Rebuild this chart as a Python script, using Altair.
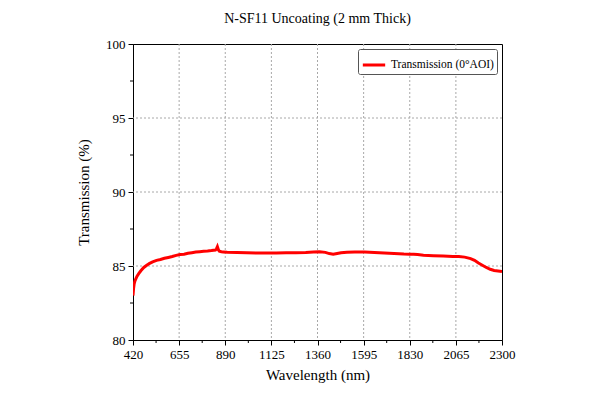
import altair as alt
import pandas as pd

wavelength = [420, 423, 426, 430, 435, 440, 450, 460, 475, 490, 505, 520, 540, 560, 580,
              600, 620, 640, 660, 680, 700, 720, 740, 760, 780, 800, 820, 840, 845,
              850, 855, 860, 870, 880, 900, 950, 1000, 1050, 1100, 1150, 1200, 1250,
              1300, 1340, 1370, 1400, 1420, 1440, 1460, 1480, 1510, 1550, 1600, 1650,
              1700, 1750, 1800, 1830, 1850, 1870, 1900, 1950, 2000, 2050, 2080, 2110,
              2140, 2160, 2180, 2200, 2220, 2240, 2260, 2280, 2300]
transmission = [83.0, 83.5, 83.8, 84.0, 84.15, 84.3, 84.5, 84.68, 84.9, 85.05, 85.18, 85.28, 85.38, 85.44, 85.52,
                85.58, 85.64, 85.72, 85.78, 85.8, 85.86, 85.9, 85.94, 85.97, 85.99, 86.01, 86.04, 86.08, 86.15,
                86.3, 86.1, 86.0, 85.96, 85.95, 85.93, 85.92, 85.9, 85.88, 85.88, 85.88, 85.9, 85.9,
                85.92, 85.95, 85.97, 85.92, 85.84, 85.8, 85.85, 85.9, 85.93, 85.94, 85.94, 85.92,
                85.88, 85.85, 85.81, 85.8, 85.79, 85.77, 85.73, 85.7, 85.67, 85.65, 85.64, 85.6,
                85.5, 85.38, 85.2, 85.05, 84.9, 84.78, 84.7, 84.66, 84.62]
series_name = "Transmission (0°AOI)"

x_ticks = [420, 655, 890, 1125, 1360, 1595, 1830, 2065, 2300]
x_grid = [655, 890, 1125, 1360, 1595, 1830, 2065]
x_minor = [537.5, 772.5, 1007.5, 1242.5, 1477.5, 1712.5, 1947.5, 2182.5]
y_ticks = [80, 85, 90, 95, 100]
y_grid = [85, 90, 95]
y_minor = [82.5, 87.5, 92.5, 97.5]

df = pd.DataFrame({"wl": wavelength, "t": transmission, "s": series_name})
dfx = pd.DataFrame({"wl": x_minor})
dfy = pd.DataFrame({"t": y_minor})
dfgx = pd.DataFrame({"wl": x_grid})
dfgy = pd.DataFrame({"t": y_grid})

serif = "Liberation Serif"

xscale = alt.Scale(domain=[420, 2300], nice=False, zero=False)
yscale = alt.Scale(domain=[80, 100], nice=False, zero=False)

gridx = alt.Chart(dfgx).mark_rule(color="#a8a8a8", strokeDash=[2, 2], strokeWidth=1).encode(
    x=alt.X("wl:Q", scale=xscale,
            axis=alt.Axis(title="Wavelength (nm)", values=x_ticks, format="d", grid=False,
                          labelFlush=False, titlePadding=6)),
)
gridy = alt.Chart(dfgy).mark_rule(color="#a8a8a8", strokeDash=[2, 2], strokeWidth=1).encode(
    y=alt.Y("t:Q", scale=yscale,
            axis=alt.Axis(title="Transmission (%)", values=y_ticks, format="d", grid=False,
                          labelFlush=False, titlePadding=14)),
)

line = alt.Chart(df).mark_line(strokeWidth=3, clip=True).encode(
    x=alt.X("wl:Q", scale=xscale),
    y=alt.Y("t:Q", scale=yscale),
    color=alt.Color("s:N", scale=alt.Scale(range=["#ff0000"]),
                    legend=alt.Legend(title=None, orient="top-right", offset=5,
                                      symbolType="stroke", symbolStrokeWidth=3,
                                      symbolSize=500, strokeColor="#555555",
                                      padding=3, cornerRadius=2,
                                      labelFont=serif, labelFontSize=11.5,
                                      labelColor="black", fillColor="white")),
)

xminor = alt.Chart(dfx).mark_rule(color="black", strokeWidth=1).encode(
    x=alt.X("wl:Q", scale=xscale),
    y=alt.value(296), y2=alt.value(299),
)
yminor = alt.Chart(dfy).mark_rule(color="black", strokeWidth=1).encode(
    y=alt.Y("t:Q", scale=yscale),
    x=alt.value(0), x2=alt.value(-3),
)

chart = alt.layer(gridx, gridy, line, xminor, yminor).properties(
    width=369, height=296,
    title=alt.TitleParams("N-SF11 Uncoating (2 mm Thick)", font=serif, fontSize=14,
                          fontWeight="normal", color="black", offset=12),
    autosize=alt.AutoSizeParams(type="none"),
    padding={"left": 125, "top": 36, "right": 90, "bottom": 60},
).configure_view(stroke="black", strokeWidth=1).configure_axis(
    labelFont=serif, titleFont=serif, labelFontSize=13, titleFontSize=15,
    titleFontWeight="normal", labelColor="black", titleColor="black",
    domainColor="black", tickColor="black", tickSize=5, labelPadding=3,
)

chart.save("out.html", embed_options={"renderer": "svg", "actions": False})
